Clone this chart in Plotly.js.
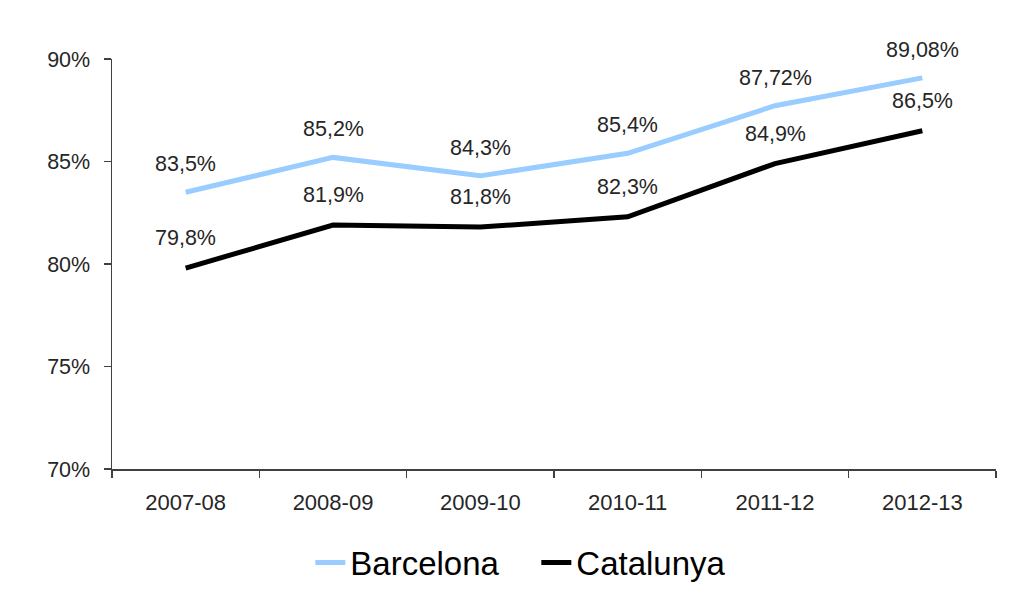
<!DOCTYPE html>
<html>
<head>
<meta charset="utf-8">
<script src="https://cdn.plot.ly/plotly-3.0.1.min.js"></script>
<style>body{margin:0;padding:0;background:#fff;} #chart{width:1010px;height:596px;}</style>
</head>
<body>
<div id="chart"></div>
<script>
const categories = ["2007-08","2008-09","2009-10","2010-11","2011-12","2012-13"];
const barcelona = [83.5, 85.2, 84.3, 85.4, 87.72, 89.08];
const catalunya = [79.8, 81.9, 81.8, 82.3, 84.9, 86.5];
const barcelonaLabels = ["83,5%","85,2%","84,3%","85,4%","87,72%","89,08%"];
const catalunyaLabels = ["79,8%","81,9%","81,8%","82,3%","84,9%","86,5%"];
const yTickVals = [70, 75, 80, 85, 90];
const yTickText = ["70%","75%","80%","85%","90%"];

const FONT = "Liberation Sans, Arial, sans-serif";
const traces = [
  {x: categories, y: barcelona, name: "Barcelona", type: "scatter", mode: "lines",
   line: {color: "#99CCFF", width: 5}},
  {x: categories, y: catalunya, name: "Catalunya", type: "scatter", mode: "lines",
   line: {color: "#000000", width: 5}}
];
const annotations = [];
categories.forEach((c, i) => {
  annotations.push({x: c, y: barcelona[i], text: barcelonaLabels[i], showarrow: false,
    yshift: 28, font: {family: FONT, size: 21.5, color: "#262626"}});
  annotations.push({x: c, y: catalunya[i], text: catalunyaLabels[i], showarrow: false,
    yshift: 30, font: {family: FONT, size: 21.5, color: "#262626"}});
});
const layout = {
  width: 1010, height: 596,
  margin: {l: 112, r: 14, t: 59, b: 127, autoexpand: false},
  paper_bgcolor: "#ffffff", plot_bgcolor: "#ffffff",
  font: {family: FONT, color: "#262626"},
  showlegend: true,
  legend: {orientation: "h", x: 0.48, xanchor: "center", y: -0.228, yanchor: "middle",
    entrywidth: 181,
    font: {family: FONT, size: 33, color: "#000"}, traceorder: "normal"},
  xaxis: {type: "category", range: [-0.5, 5.5], showgrid: false, zeroline: false,
    showline: true, linecolor: "#404040", linewidth: 1.5,
    ticks: "outside", tickson: "boundaries", ticklen: 7, tickcolor: "#404040", tickwidth: 1.5,
    ticklabelstandoff: 13,
    tickfont: {family: FONT, size: 22, color: "#262626"}},
  yaxis: {range: [70, 90], tickvals: yTickVals, ticktext: yTickText, showgrid: false, zeroline: false,
    showline: true, linecolor: "#404040", linewidth: 1.5,
    ticks: "outside", ticklen: 7, tickcolor: "#404040", tickwidth: 1.5, ticklabelstandoff: 9,
    tickfont: {family: FONT, size: 21.5, color: "#262626"}},
  annotations: annotations
};
Plotly.newPlot("chart", traces, layout, {displayModeBar: false, staticPlot: true});
</script>
</body>
</html>
